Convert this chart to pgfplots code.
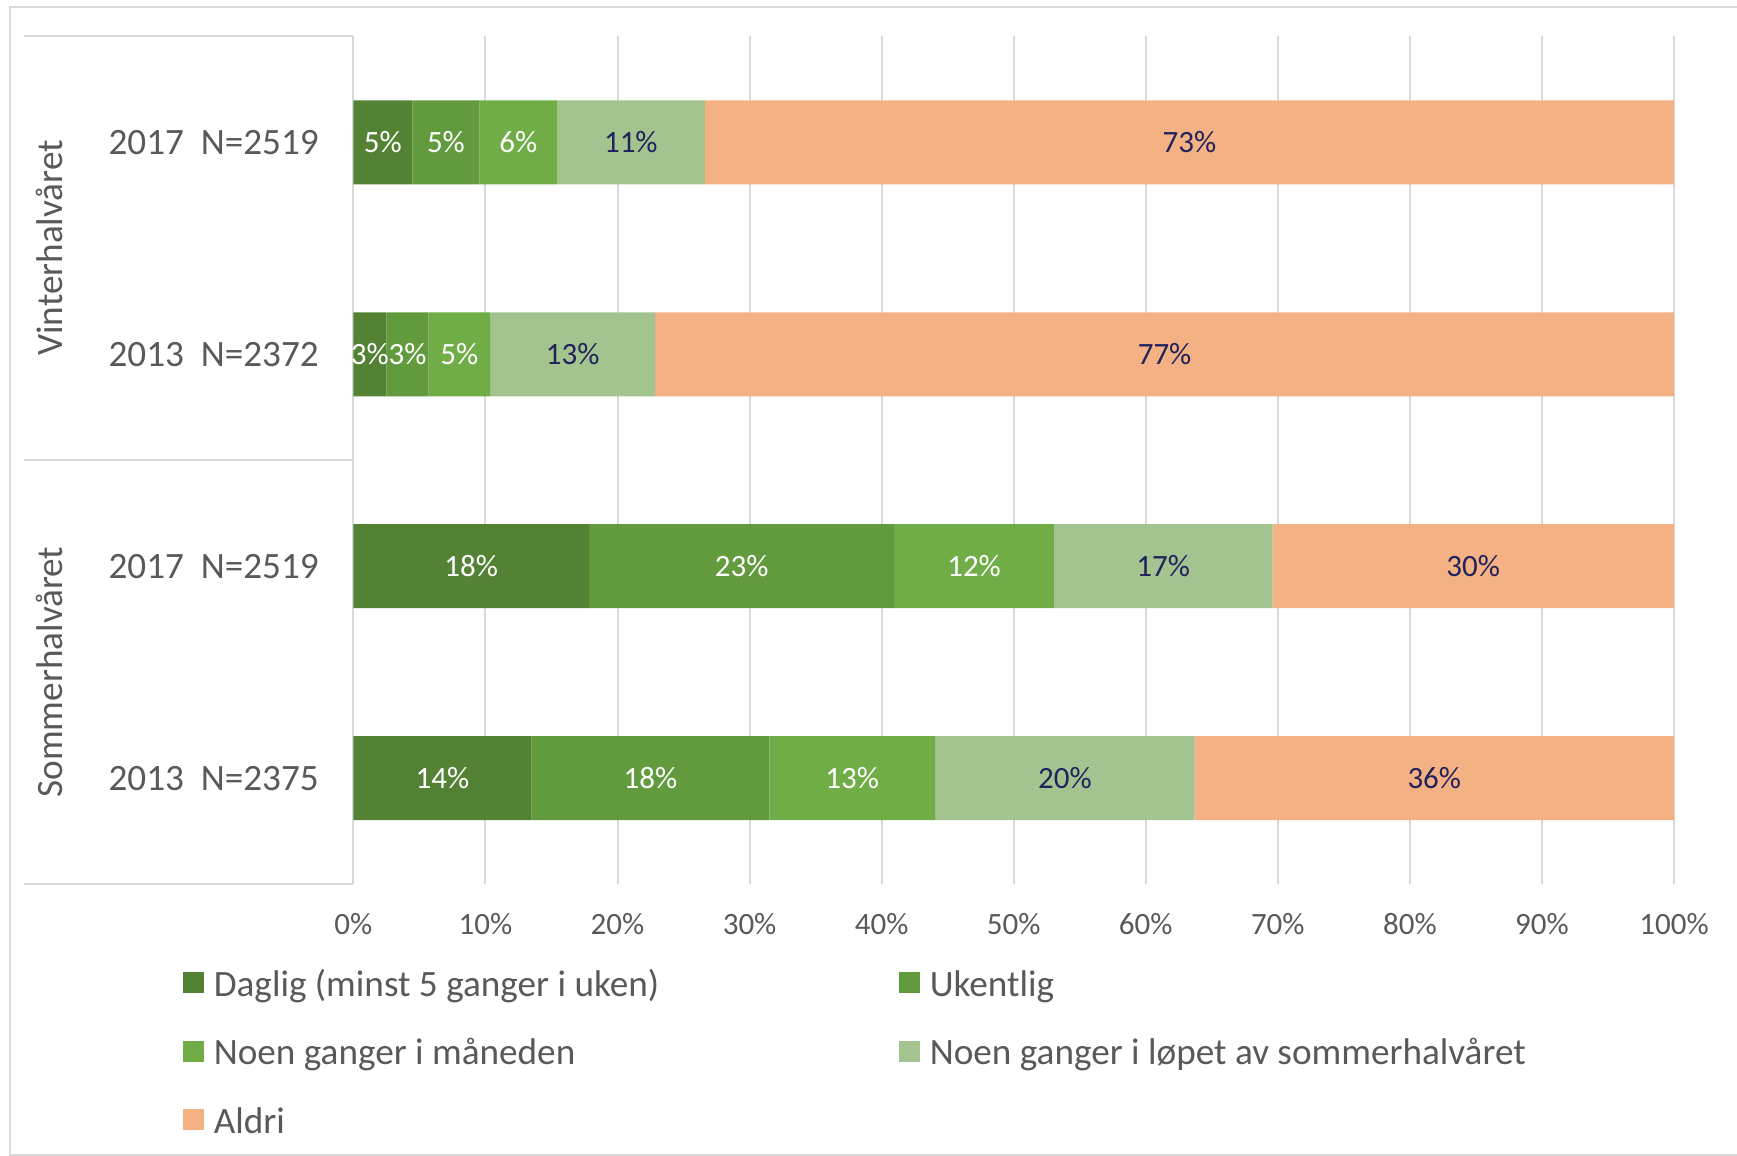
\documentclass[border=0pt]{standalone}
\usepackage{pgfplots}
\pgfplotsset{compat=1.18}
\usepackage{pgfplotstable}
\usepackage{fontspec}
\setmainfont{Carlito}
\definecolor{cDag}{HTML}{548235}
\definecolor{cUke}{HTML}{629B3E}
\definecolor{cMnd}{HTML}{70AD47}
\definecolor{cLop}{HTML}{A3C48F}
\definecolor{cAld}{HTML}{F4B183}
\definecolor{txt}{HTML}{595959}
\definecolor{navy}{HTML}{22225C}
\definecolor{gridc}{HTML}{D9D9D9}

% y: 3 = Vinter 2017, 2 = Vinter 2013, 1 = Sommer 2017, 0 = Sommer 2013
\pgfplotstableread{
y x lab
3 4.46 5
2 2.50 3
1 17.85 18
0 13.50 14
}\tDag
\pgfplotstableread{
y x lab
3 5.10 5
2 3.20 3
1 23.10 23
0 18.00 18
}\tUke
\pgfplotstableread{
y x lab
3 5.85 6
2 4.65 5
1 12.10 12
0 12.55 13
}\tMnd
\pgfplotstableread{
y x lab
3 11.20 11
2 12.50 13
1 16.55 17
0 19.65 20
}\tLop
\pgfplotstableread{
y x lab
3 73.39 73
2 77.15 77
1 30.40 30
0 36.30 36
}\tAld

\begin{document}
\begin{tikzpicture}
\path[use as bounding box] (-176.7pt,-136pt) rectangle (691.8pt,442pt);
% outer chart border
\draw[gridc, line width=1pt] (700pt,438.5pt) -- (-171.7pt,438.5pt) -- (-171.7pt,-135.5pt) -- (700pt,-135.5pt);
% category panel lines
\draw[gridc, line width=1pt] (-164.7pt,423.75pt) -- (0pt,423.75pt);
\draw[gridc, line width=1pt] (-164.7pt,212pt) -- (0pt,212pt);
\draw[gridc, line width=1pt] (-164.7pt,0pt) -- (0pt,0pt);
\node[rotate=90, text=txt, font=\fontsize{18.6}{22}\selectfont] at (-152pt,318pt) {Vinterhalvåret};
\node[rotate=90, text=txt, font=\fontsize{18.6}{22}\selectfont] at (-152pt,106pt) {Sommerhalvåret};
\begin{axis}[
  at={(0pt,0pt)}, anchor=south west,
  scale only axis, width=660.3pt, height=423.75pt,
  xbar stacked, bar width=42pt,
  xmin=0, xmax=100, ymin=-0.5, ymax=3.5,
  ytick={0,1,2,3},
  yticklabels={2013\hspace{0.45em}N=2375, 2017\hspace{0.45em}N=2519, 2013\hspace{0.45em}N=2372, 2017\hspace{0.45em}N=2519},
  yticklabel style={font=\fontsize{18.6}{22}\selectfont, text=txt, xshift=-13.8pt},
  xtick={0,10,...,100},
  xticklabel={\pgfmathprintnumber{\tick}\%},
  /pgf/number format/assume math mode=true,
  xticklabel style={font=\fontsize{15.5}{18}\selectfont, text=txt, yshift=-11pt},
  xmajorgrids, grid style={gridc, line width=1pt},
  axis line style={draw=none}, major tick length=0pt,
  point meta=explicit symbolic,
  nodes near coords={\pgfplotspointmeta\%},
  nodes near coords align=center,
  every node near coord/.append style={anchor=center, font=\fontsize{15.5}{18}\selectfont},
  legend columns=2,
  legend cell align=left,
  legend image code/.code={\fill[#1] (0pt,-5.25pt) rectangle (10.5pt,5.25pt);},
  legend style={at={(0,0)}, anchor=north west, xshift=-85.2pt, yshift=-38.5pt, draw=none, fill=none, inner sep=0pt, row sep=13.5pt, font=\fontsize{18.6}{22}\selectfont, text=txt},
]
\addplot[fill=cDag, draw=none, every node near coord/.append style={text=white}] table[x=x, y=y, meta=lab] {\tDag};
\addplot[fill=cUke, draw=none, every node near coord/.append style={text=white}] table[x=x, y=y, meta=lab] {\tUke};
\addplot[fill=cMnd, draw=none, every node near coord/.append style={text=white}] table[x=x, y=y, meta=lab] {\tMnd};
\addplot[fill=cLop, draw=none, every node near coord/.append style={text=navy}] table[x=x, y=y, meta=lab] {\tLop};
\addplot[fill=cAld, draw=none, every node near coord/.append style={text=navy}] table[x=x, y=y, meta=lab] {\tAld};
\legend{\makebox[343.5pt][l]{\strut\hspace{2.7pt}Daglig (minst 5 ganger i uken)}, \strut\hspace{2.7pt}Ukentlig, \makebox[343.5pt][l]{\strut\hspace{2.7pt}Noen ganger i måneden}, \strut\hspace{2.7pt}Noen ganger i løpet av sommerhalvåret, \strut\hspace{2.7pt}Aldri}
\end{axis}
\end{tikzpicture}
\end{document}
